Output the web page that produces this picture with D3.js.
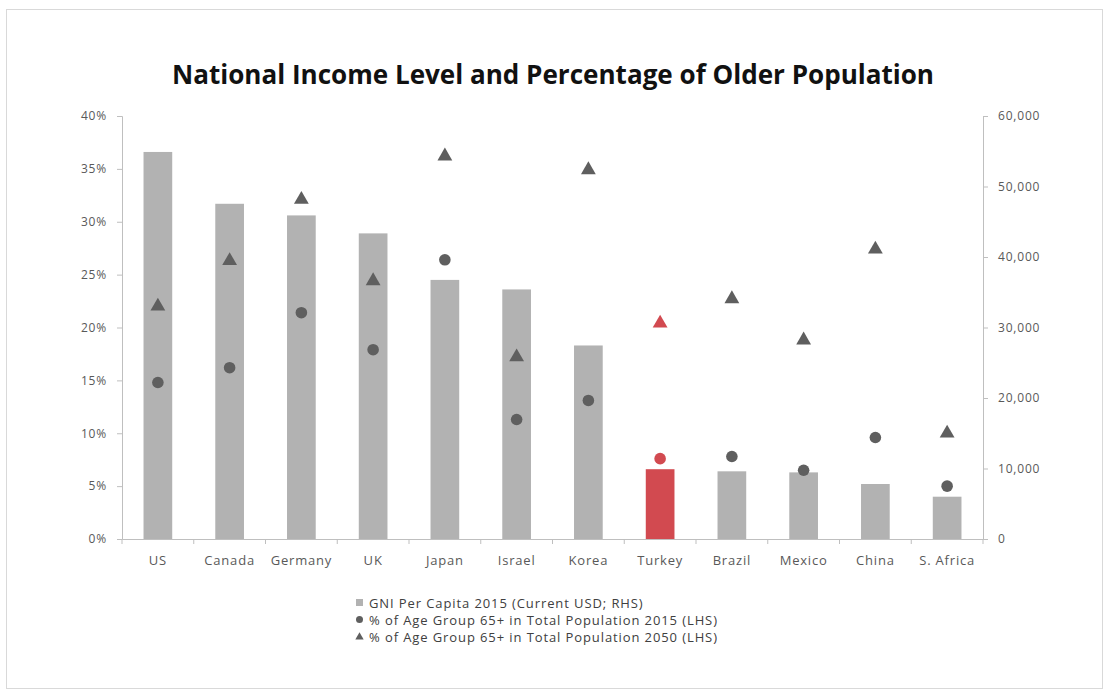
<!DOCTYPE html>
<html>
<head>
<meta charset="utf-8">
<script src="https://cdn.jsdelivr.net/npm/d3@7"></script>
<style>
  body { margin: 0; background: #fff; }
  svg text { font-family: "Open Sans", "DejaVu Sans", sans-serif; }
</style>
</head>
<body>
<svg id="chart" width="1109" height="695"></svg>
<script>
// data
var countries = ['US', 'Canada', 'Germany', 'UK', 'Japan', 'Israel', 'Korea', 'Turkey', 'Brazil', 'Mexico', 'China', 'S. Africa'];
var gni2015 = [54900, 47550, 45900, 43350, 36750, 35400, 27450, 9900, 9600, 9450, 7800, 6000];
var pct2015 = [0.148, 0.162, 0.214, 0.179, 0.264, 0.113, 0.131, 0.076, 0.078, 0.065, 0.096, 0.050];
var pct2050 = [0.221, 0.264, 0.322, 0.245, 0.363, 0.173, 0.350, 0.205, 0.228, 0.189, 0.275, 0.101];
var leftTicks = [0, 0.05, 0.10, 0.15, 0.20, 0.25, 0.30, 0.35, 0.40];
var rightTicks = [0, 10000, 20000, 30000, 40000, 50000, 60000];
var highlight = 'Turkey';
var legendLabels = [
  'GNI Per Capita 2015 (Current USD; RHS)',
  '% of Age Group 65+ in Total Population 2015 (LHS)',
  '% of Age Group 65+ in Total Population 2050 (LHS)'
];

var svg = d3.select('#chart');
var plotLeft = 122, plotRight = 983, plotTop = 116, plotBottom = 539;
var barGrey = '#b2b2b2', markGrey = '#5f5f5f', red = '#d24a50', axisGrey = '#bfbfbf', textGrey = '#595959';

// outer frame
svg.append('rect').attr('x', 6.5).attr('y', 9.5).attr('width', 1096).attr('height', 679)
  .attr('fill', 'none').attr('stroke', '#d9d9d9');

svg.append('text').attr('x', 553).attr('y', 84).attr('text-anchor', 'middle')
  .attr('font-size', '26px').attr('font-weight', 'bold').attr('fill', '#111')
  .attr('textLength', 762).attr('lengthAdjust', 'spacingAndGlyphs')
  .text('National Income Level and Percentage of Older Population');

var x = d3.scaleBand().domain(countries).range([plotLeft, plotRight]).padding(0);
var yL = d3.scaleLinear().domain([0, 0.4]).range([plotBottom, plotTop]);
var yR = d3.scaleLinear().domain([0, 60000]).range([plotBottom, plotTop]);
var bw = x.bandwidth() * 0.4;

function cx(c) { return x(c) + x.bandwidth() / 2; }
function colour(c, base) { return c === highlight ? red : base; }

// bars
svg.append('g').selectAll('rect').data(countries).enter().append('rect')
  .attr('x', function (d) { return cx(d) - bw / 2; })
  .attr('y', function (d, i) { return yR(gni2015[i]); })
  .attr('width', bw)
  .attr('height', function (d, i) { return plotBottom - yR(gni2015[i]); })
  .attr('fill', function (d) { return colour(d, barGrey); });

// left axis
var gL = svg.append('g').attr('transform', 'translate(' + plotLeft + ',0)')
  .call(d3.axisLeft(yL).tickValues(leftTicks).tickFormat(d3.format('.0%')).tickSize(5).tickPadding(10));
// right axis
var gR = svg.append('g').attr('transform', 'translate(' + plotRight + ',0)')
  .call(d3.axisRight(yR).tickValues(rightTicks).tickFormat(d3.format(',')).tickSize(5).tickPadding(10));
[gL, gR].forEach(function (g) {
  g.select('.domain').attr('stroke', axisGrey);
  g.selectAll('.tick line').attr('stroke', axisGrey);
  g.selectAll('.tick text').attr('fill', textGrey).attr('font-size', '12px').attr('letter-spacing', '0.8px');
});

// x axis
var gX = svg.append('g').attr('transform', 'translate(0,' + plotBottom + ')')
  .call(d3.axisBottom(x).tickSize(0).tickPadding(17));
gX.select('.domain').attr('stroke', axisGrey);
gX.selectAll('.tick text').attr('fill', textGrey).attr('font-size', '13px').attr('letter-spacing', '0.8px');
gX.selectAll('.sep').data(countries.concat(['end'])).enter().append('line')
  .attr('x1', function (d) { return d === 'end' ? plotRight : x(d); })
  .attr('x2', function (d) { return d === 'end' ? plotRight : x(d); })
  .attr('y1', 0).attr('y2', 5).attr('stroke', axisGrey);

// markers
var tri = d3.symbol().type(d3.symbolTriangle).size(95);
svg.append('g').selectAll('path').data(countries).enter().append('path')
  .attr('d', tri)
  .attr('transform', function (d, i) { return 'translate(' + cx(d) + ',' + (yL(pct2050[i]) + 1) + ')'; })
  .attr('fill', function (d) { return colour(d, markGrey); });
svg.append('g').selectAll('circle').data(countries).enter().append('circle')
  .attr('cx', cx)
  .attr('cy', function (d, i) { return yL(pct2015[i]); })
  .attr('r', 5.8)
  .attr('fill', function (d) { return colour(d, markGrey); });

// legend
var lg = svg.append('g').attr('transform', 'translate(357,603)');
legendLabels.forEach(function (t, i) {
  var row = lg.append('g').attr('transform', 'translate(0,' + i * 17 + ')');
  if (i === 0) {
    row.append('rect').attr('x', -1).attr('y', -4).attr('width', 7).attr('height', 7).attr('fill', barGrey);
  } else if (i === 1) {
    row.append('circle').attr('cx', 2.5).attr('cy', -0.5).attr('r', 3.5).attr('fill', markGrey);
  } else {
    row.append('path').attr('d', d3.symbol().type(d3.symbolTriangle).size(30))
      .attr('transform', 'translate(2.5,0)').attr('fill', markGrey);
  }
  row.append('text').attr('x', 12).attr('y', 4.5).attr('font-size', '13px')
    .attr('letter-spacing', '0.9px').attr('fill', '#404040').text(t);
});
</script>
</body>
</html>
